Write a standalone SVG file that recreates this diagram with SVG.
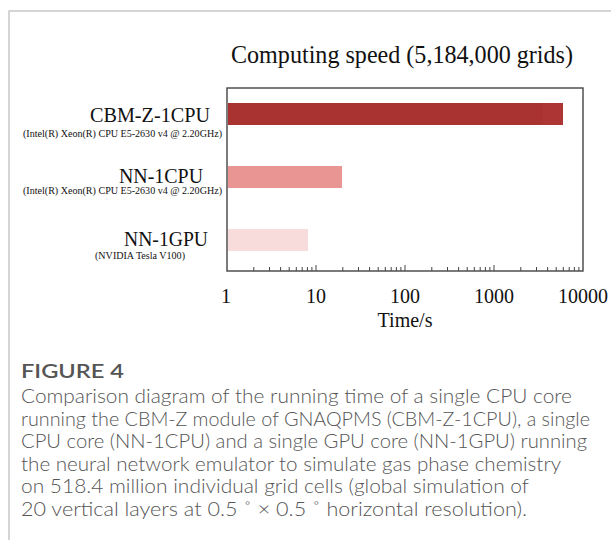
<svg xmlns="http://www.w3.org/2000/svg" width="611" height="540" viewBox="0 0 611 540">
  <style>
    .serif { font-family: "Liberation Serif", "Times New Roman", serif; fill: #111; }
    .title { font-size: 25px; }
    .name { font-size: 22px; }
    .cpu { font-size: 9.5px; }
    .tick { font-size: 20px; text-anchor: middle; }
    .cap { font-family: Lato, "Open Sans", sans-serif; font-size: 20px; font-weight: 300; fill: #555; }
    .caphead { font-family: Lato, "Open Sans", sans-serif; font-size: 19px; font-weight: 600; fill: #555; }
    .frame { fill: none; stroke: #444; stroke-width: 1.4; }
    .minor { stroke: #444; stroke-width: 1; }
  </style>

  <!-- figure panel border -->
  <path d="M9 540 V11 H611" fill="none" stroke="#c8c8c8" stroke-width="1.5"/>

  <!-- chart title -->
  <text class="serif title" x="231" y="63" textLength="342" lengthAdjust="spacingAndGlyphs">Computing speed (5,184,000 grids)</text>

  <!-- bars, log scale: x = 227 + 89*log10(t) -->
  <g id="bar-cbm">
    <rect x="228" y="103" width="335" height="22" fill="#a93331"/>
    <rect x="543" y="103" width="20" height="22" fill="#ad3533"/>
  </g>
  <g id="bar-nn-cpu">
    <rect x="228" y="166" width="114" height="22" fill="#e89594"/>
  </g>
  <g id="bar-nn-gpu">
    <rect x="228" y="229" width="80" height="22" fill="#f8dcdc"/>
  </g>

  <!-- plot frame -->
  <rect class="frame" x="227" y="88" width="356" height="183"/>

  <!-- axis ticks -->
  <g id="ticks">
    <path class="minor" d="
      M253.8 271v-4 M269.5 271v-4 M280.6 271v-4 M289.2 271v-4 M296.3 271v-4 M302.2 271v-4 M307.4 271v-4 M311.9 271v-4 M316 271v-6
      M342.8 271v-4 M358.5 271v-4 M369.6 271v-4 M378.2 271v-4 M385.3 271v-4 M391.2 271v-4 M396.4 271v-4 M400.9 271v-4 M405 271v-6
      M431.8 271v-4 M447.5 271v-4 M458.6 271v-4 M467.2 271v-4 M474.3 271v-4 M480.2 271v-4 M485.4 271v-4 M489.9 271v-4 M494 271v-6
      M520.8 271v-4 M536.5 271v-4 M547.6 271v-4 M556.2 271v-4 M563.3 271v-4 M569.2 271v-4 M574.4 271v-4 M578.9 271v-4"/>
  </g>

  <!-- tick labels -->
  <g id="tick-labels" class="serif tick">
    <text x="226" y="303">1</text>
    <text x="316" y="303">10</text>
    <text x="405" y="303">100</text>
    <text x="494" y="303">1000</text>
    <text x="583" y="303">10000</text>
  </g>
  <text class="serif tick" x="405" y="327">Time/s</text>

  <!-- category labels -->
  <g id="label-cbm" class="serif">
    <text class="name" x="90" y="122" textLength="120" lengthAdjust="spacingAndGlyphs">CBM-Z-1CPU</text>
    <text class="cpu" x="23" y="137" textLength="199" lengthAdjust="spacingAndGlyphs">(Intel(R) Xeon(R) CPU E5-2630 v4 @ 2.20GHz)</text>
  </g>
  <g id="label-nn-cpu" class="serif">
    <text class="name" x="119" y="183" textLength="84" lengthAdjust="spacingAndGlyphs">NN-1CPU</text>
    <text class="cpu" x="23" y="194" textLength="199" lengthAdjust="spacingAndGlyphs">(Intel(R) Xeon(R) CPU E5-2630 v4 @ 2.20GHz)</text>
  </g>
  <g id="label-nn-gpu" class="serif">
    <text class="name" x="124" y="246" textLength="84" lengthAdjust="spacingAndGlyphs">NN-1GPU</text>
    <text class="cpu" x="95" y="259" textLength="90" lengthAdjust="spacingAndGlyphs">(NVIDIA  Tesla V100)</text>
  </g>

  <!-- caption -->
  <g id="caption">
    <text class="caphead" x="21" y="378" textLength="103" lengthAdjust="spacingAndGlyphs">FIGURE 4</text>
    <text class="cap" x="21" y="403" textLength="551" lengthAdjust="spacingAndGlyphs">Comparison diagram of the running time of a single CPU core</text>
    <text class="cap" x="21" y="425.5" textLength="569" lengthAdjust="spacingAndGlyphs">running the CBM-Z module of GNAQPMS (CBM-Z-1CPU), a single</text>
    <text class="cap" x="21" y="448" textLength="566" lengthAdjust="spacingAndGlyphs">CPU core (NN-1CPU) and a single GPU core (NN-1GPU) running</text>
    <text class="cap" x="21" y="470.5" textLength="540" lengthAdjust="spacingAndGlyphs">the neural network emulator to simulate gas phase chemistry</text>
    <text class="cap" x="21" y="493" textLength="508" lengthAdjust="spacingAndGlyphs">on 518.4 million individual grid cells (global simulation of</text>
    <text class="cap" x="21" y="515.5" textLength="506" lengthAdjust="spacingAndGlyphs">20 vertical layers at 0.5 ˚ × 0.5 ˚ horizontal resolution).</text>
  </g>
</svg>
